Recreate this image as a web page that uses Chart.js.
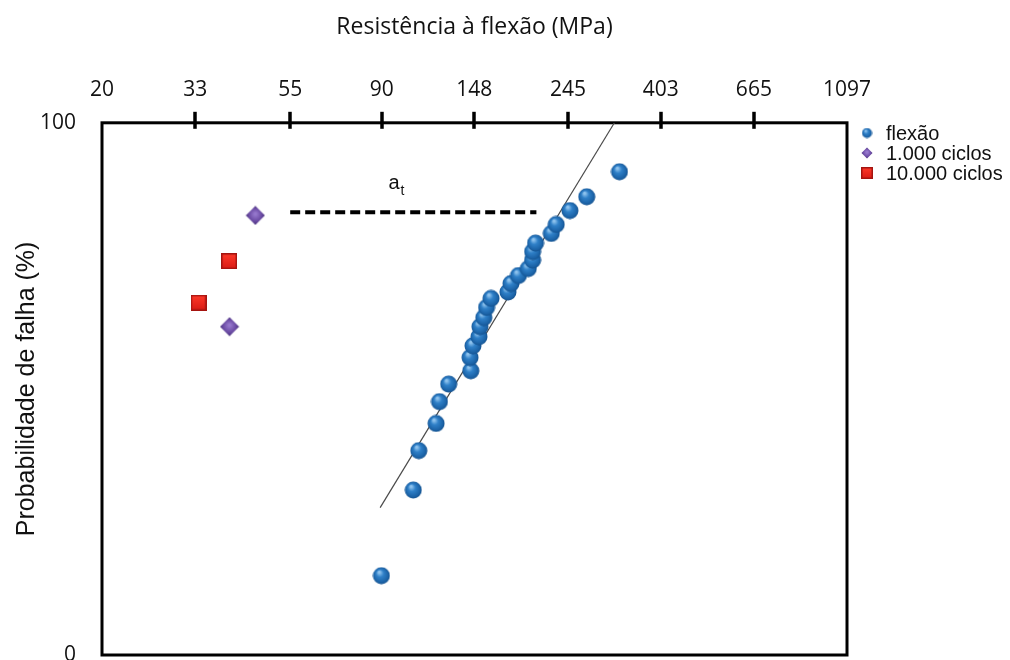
<!DOCTYPE html>
<html>
<head>
<meta charset="utf-8">
<script src="https://cdn.jsdelivr.net/npm/chart.js@4.4.1/dist/chart.umd.min.js"></script>
<style>
html, body { margin: 0; padding: 0; background: #fff; }
#wrap { width: 1010px; height: 660px; position: relative; }
</style>
</head>
<body>
<div id="wrap"><canvas id="canvas1"></canvas></div>
<script>
// tick labels (MPa, log scale) and probability ticks
var xTicks = [20, 33, 55, 90, 148, 245, 403, 665, 1097];
var yTicks = [0, 100];

// flexão (MPa, %)
var flexaoX = [89.8, 106.6, 109.8, 120.5, 122.7, 128.9, 145.2, 144.6, 146.9, 151.7, 152.5, 155.7, 158.0,
               161.9, 177.3, 180.2, 187.6, 197.8, 202.4, 202.4, 205.6, 223.8, 229.8, 247.4, 270.8, 322.9];
var flexaoY = [14.9, 31.0, 38.4, 43.5, 47.6, 50.9, 53.4, 55.9, 58.1, 59.8, 61.7, 63.4, 65.3,
               67.0, 68.2, 69.8, 71.3, 72.6, 74.2, 75.8, 77.4, 79.2, 80.9, 83.5, 86.1, 90.8];

// 1.000 ciclos
var c1000X = [45.6, 39.7];
var c1000Y = [82.6, 61.7];

// 10.000 ciclos
var c10000X = [39.6, 33.6];
var c10000Y = [74.0, 66.2];

// fitted line of flexão
var fitX = [89.2, 314.2];
var fitY = [27.7, 100];

// a_t dashed segment
var atX = [55, 206.6];
var atY = [83.2, 83.2];
var atLabelX = 99;
var atLabelY = 87.6;

function pts(xs, ys) {
	return xs.map(function (x, i) { return {x: x, y: ys[i]}; });
}

// little shaded sprites for the markers
function ball(d) {
	var c = document.createElement('canvas');
	c.width = c.height = d;
	var g = c.getContext('2d'), r = d / 2;
	var grd = g.createRadialGradient(r * 0.75, r * 0.6, r * 0.1, r, r, r);
	grd.addColorStop(0, '#8fc3ee');
	grd.addColorStop(0.35, '#2f80c8');
	grd.addColorStop(0.8, '#1b62a6');
	grd.addColorStop(1, '#124c86');
	g.fillStyle = grd;
	g.beginPath(); g.arc(r, r, r - 0.5, 0, Math.PI * 2); g.fill();
	return c;
}
function diamond(d) {
	var c = document.createElement('canvas');
	c.width = c.height = d;
	var g = c.getContext('2d'), r = d / 2;
	var grd = g.createRadialGradient(r, r * 0.85, 1, r, r, r);
	grd.addColorStop(0, '#9577cc');
	grd.addColorStop(0.6, '#6a4aa3');
	grd.addColorStop(1, '#3f2870');
	g.fillStyle = grd;
	g.beginPath(); g.moveTo(r, 0.5); g.lineTo(d - 0.5, r); g.lineTo(r, d - 0.5); g.lineTo(0.5, r); g.closePath(); g.fill();
	return c;
}
function square(d) {
	var c = document.createElement('canvas');
	c.width = c.height = d;
	var g = c.getContext('2d');
	g.fillStyle = '#a51410';
	g.fillRect(0, 0, d, d);
	var grd = g.createLinearGradient(0, 0, 0, d);
	grd.addColorStop(0, '#ff3a2a');
	grd.addColorStop(1, '#d81a14');
	g.fillStyle = grd;
	g.fillRect(1.5, 1.5, d - 3, d - 3);
	return c;
}

var ballImg = ball(18), diaImg = diamond(20), sqImg = square(16);
var legendItems = [
	{label: 'flexão', img: ball(11)},
	{label: '1.000 ciclos', img: diamond(12)},
	{label: '10.000 ciclos', img: square(12)}
];

var framePlugin = {
	id: 'frame',
	beforeDatasetsDraw: function (chart) {
		var a = chart.chartArea, ctx = chart.ctx, xs = chart.scales.x;
		ctx.save();
		ctx.strokeStyle = '#000';
		ctx.lineWidth = 3;
		ctx.strokeRect(a.left, a.top, a.right - a.left, a.bottom - a.top);
		ctx.lineWidth = 3.5;
		xs.ticks.forEach(function (t, i) {
			if (i === 0 || i === xs.ticks.length - 1) return;
			var px = Math.round(xs.getPixelForValue(t.value));
			ctx.beginPath();
			ctx.moveTo(px, a.top - 11);
			ctx.lineTo(px, a.top + 6);
			ctx.stroke();
		});
		ctx.restore();
	},
	afterDraw: function (chart) {
		var ctx = chart.ctx, a = chart.chartArea;
		ctx.save();
		// a_t label
		var lx = chart.scales.x.getPixelForValue(atLabelX);
		var ly = chart.scales.y.getPixelForValue(atLabelY);
		ctx.fillStyle = '#111';
		ctx.textBaseline = 'alphabetic';
		ctx.font = '20px "Liberation Sans", Arial, sans-serif';
		ctx.textAlign = 'right';
		ctx.fillText('a', lx, ly);
		ctx.font = '14px "Liberation Sans", Arial, sans-serif';
		ctx.textAlign = 'left';
		ctx.fillText('t', lx + 1, ly + 6);
		// legend
		ctx.font = '20px "Liberation Sans", Arial, sans-serif';
		ctx.textBaseline = 'middle';
		legendItems.forEach(function (it, i) {
			var cy = 133 + i * 20;
			ctx.drawImage(it.img, a.right + 20 - it.img.width / 2, cy - it.img.height / 2);
			ctx.fillText(it.label, a.right + 39, cy + 1);
		});
		ctx.restore();
	}
};

// the edge labels may hang over the plot box, as in the original
function noOverhang(ax) {
	ax.paddingLeft = 0;
	ax.paddingRight = 0;
	ax.paddingTop = 0;
	ax.paddingBottom = 0;
}

var tickFont = {family: '"Open Sans", sans-serif', size: 21};

var myChart = {
	type: 'scatter',
	data: {
		datasets: [
			{
				label: 'flexão',
				data: pts(flexaoX, flexaoY),
				pointStyle: ballImg
			},
			{
				label: '1.000 ciclos',
				data: pts(c1000X, c1000Y),
				pointStyle: diaImg
			},
			{
				label: '10.000 ciclos',
				data: pts(c10000X, c10000Y),
				pointStyle: sqImg
			},
			{
				label: 'ajuste',
				data: pts(fitX, fitY),
				showLine: true,
				borderColor: '#4a4a4a',
				borderWidth: 1.2,
				pointRadius: 0
			},
			{
				label: 'at',
				data: pts(atX, atY),
				showLine: true,
				borderColor: '#000',
				borderWidth: 4,
				borderDash: [10, 5],
				borderCapStyle: 'butt',
				pointRadius: 0
			}
		]
	},
	options: {
		responsive: true,
		maintainAspectRatio: false,
		animation: false,
		layout: {padding: {top: 14, right: 163, bottom: 4, left: 0}},
		plugins: {
			legend: {display: false},
			tooltip: {enabled: false},
			title: {display: false}
		},
		scales: {
			x: {
				type: 'logarithmic',
				position: 'top',
				min: 20,
				max: 1097,
				afterBuildTicks: function (ax) {
					ax.ticks = xTicks.map(function (v) { return {value: v}; });
				},
				afterFit: noOverhang,
				ticks: {
					callback: function (v) { return String(v); },
					font: tickFont,
					color: '#111',
					padding: 6,
					maxRotation: 0,
					autoSkip: false
				},
				grid: {display: true, drawOnChartArea: false, drawTicks: true, tickLength: 14, color: 'rgba(0,0,0,0)'},
				border: {display: false},
				title: {
					display: true,
					text: 'Resistência à flexão (MPa)',
					font: {family: '"Open Sans", sans-serif', size: 23},
					color: '#111',
					padding: {top: 0, bottom: 30}
				}
			},
			y: {
				min: 0,
				max: 100,
				afterBuildTicks: function (ax) {
					ax.ticks = yTicks.map(function (v) { return {value: v}; });
				},
				afterFit: function (ax) {
					noOverhang(ax);
					ax.width = 102;
				},
				ticks: {
					font: tickFont,
					color: '#111',
					padding: 12
				},
				grid: {display: true, drawOnChartArea: false, drawTicks: true, tickLength: 14, color: 'rgba(0,0,0,0)'},
				border: {display: false},
				title: {
					display: true,
					text: 'Probabilidade de falha (%)',
					font: {family: '"Liberation Sans", Arial, sans-serif', size: 25},
					color: '#111',
					padding: {top: 12, bottom: 0}
				}
			}
		}
	},
	plugins: [framePlugin]
};

window.onload = function () {
	var ctx = document.getElementById('canvas1').getContext('2d');
	new Chart(ctx, myChart);
};
</script>
</body>
</html>
